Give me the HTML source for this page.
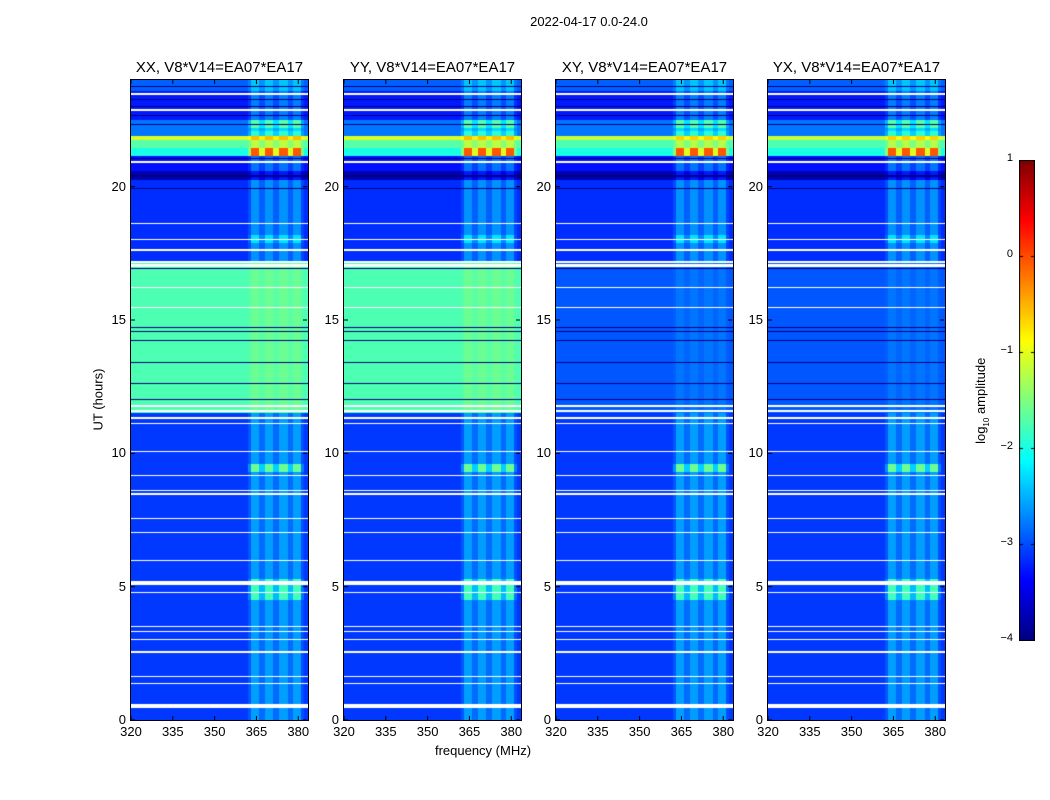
<!DOCTYPE html>
<html><head><meta charset="utf-8">
<style>
body{margin:0;background:#fff;font-family:"Liberation Sans",sans-serif;}
#root{position:relative;width:1050px;height:800px;overflow:hidden;}
.t{position:absolute;color:#000;white-space:nowrap;}
canvas{position:absolute;}
</style></head><body>
<div id="root">
<div class="t" style="left:489px;top:14px;width:200px;text-align:center;font-size:13px;">2022-04-17 0.0-24.0</div>
<div class="t" style="left:400px;top:743px;width:166px;text-align:center;font-size:13px;">frequency (MHz)</div>
<div class="t" style="left:48px;top:392px;width:100px;text-align:center;font-size:13px;transform:rotate(-90deg);">UT (hours)</div>
<div class="t" style="left:922px;top:392px;width:120px;text-align:center;font-size:13px;transform:rotate(-90deg);">log<sub style="font-size:8px">10</sub> amplitude</div>
<canvas id="cb" style="left:1019px;top:160px;" width="16" height="481"></canvas>
</div>
<script>
// ---- data ----
const panelTitles=["XX, V8*V14=EA07*EA17","YY, V8*V14=EA07*EA17","XY, V8*V14=EA07*EA17","YX, V8*V14=EA07*EA17"];
const xTicks=[320,335,350,365,380];
const yTicks=[0,5,10,15,20];
const cbTicks=[-4,-3,-2,-1,0,1];
// time segments (hours) and base log10 level, parallel (XX/YY) and cross (XY/YX)
const segStart=[0,11.2,11.5,17.2,20.25,20.6,21.15,21.45,21.75,21.9,22.5,23.6];
const segEnd  =[11.2,11.5,17.2,20.25,20.6,21.15,21.45,21.75,21.9,22.5,23.6,24];
const levelPar=[-3.1,-3.1,-1.75,-3.15,-3.75,-3.3,-2.0,-1.7,-1.05,-2.8,-3.25,-2.9];
const levelCross=[-3.1,-3.1,-2.95,-3.15,-3.75,-3.3,-2.0,-1.75,-1.15,-2.8,-3.25,-2.9];
// RFI channel bands (MHz) and boost
const bandLo=[362,363,366,368,371,373,376.5,378,381];
const bandHi=[363,366,368,371,373,376.5,378,381,382];
const bandBoost=[0.15,0.5,0.25,0.5,0.25,0.5,0.25,0.5,0.12];
// RFI gain per time window
const gainStart=[4.5,9.3,11.5,17.9,21.15,21.9,22.2];
const gainEnd=[5.3,9.6,17.2,18.2,21.45,22.1,22.5];
const gainVal=[2.6,3.0,0.3,1.8,3.9,1.8,2.2];
// flagged (white) rows, hours
const flagStart=[0.45,1.35,1.6,2.5,3.0,3.3,3.5,4.75,5.05,5.95,7.0,7.55,8.45,8.6,9.15,10.05,11.1,11.3,11.55,11.75,15.45,16.2,17.0,17.15,17.6,18.0,18.6,19.3,20.9,22.85,23.45];
const flagEnd  =[0.6,1.4,1.65,2.58,3.04,3.34,3.54,4.8,5.2,5.99,7.04,7.59,8.5,8.64,9.2,10.09,11.15,11.38,11.62,11.82,15.5,16.25,17.1,17.2,17.65,18.05,18.65,19.3,20.95,22.9,23.5];
// dark (black) rows, hours
const darkStart=[12.0,12.6,13.4,14.2,14.55,14.7,16.9,19.9,20.35,21.05,22.3,22.65,23.0,23.25,23.75];
const darkEnd  =[12.04,12.64,13.44,14.24,14.59,14.74,16.94,19.94,20.45,21.09,22.34,22.69,23.04,23.29,23.79];

// ---- layout ----
const panelX=[131,344,556,768], PW=177, PT=80, PH=640, XMIN=320, XMAX=383.5;
const root=document.getElementById('root');
function jet(v){
  const r=Math.min(1,Math.max(0,1.5-Math.abs(4*v-3)));
  const g=Math.min(1,Math.max(0,1.5-Math.abs(4*v-2)));
  const b=Math.min(1,Math.max(0,1.5-Math.abs(4*v-1)));
  return [r*255|0,g*255|0,b*255|0];
}
function norm(l){return Math.min(1,Math.max(0,(l+4)/5));}
function inAny(h,s,e){for(let i=0;i<s.length;i++) if(h>=s[i]&&h<e[i]) return i; return -1;}
function xs(f){return (f-XMIN)/(XMAX-XMIN)*PW;}
function ys(h){return PH-h/24*PH;}

panelX.forEach((px,p)=>{
  const c=document.createElement('canvas');
  
  
  c.width=PW;c.height=PH;c.style.left=px+'px';c.style.top=PT+'px';
  root.appendChild(c);
  const ctx=c.getContext('2d');const img=ctx.createImageData(PW,PH);
  const lev=p<2?levelPar:levelCross;
  for(let y=0;y<PH;y++){
    const h=24*(1-(y+0.5)/PH);
    const flag=inAny(h,flagStart,flagEnd)>=0;
    const dark=inAny(h,darkStart,darkEnd)>=0;
    const si=inAny(h,segStart,segEnd);
    const base=si>=0?lev[si]:-3;
    const gi=inAny(h,gainStart,gainEnd);
    const gain=gi>=0?gainVal[gi]:1;
    for(let x=0;x<PW;x++){
      const f=XMIN+(x+0.5)/PW*(XMAX-XMIN);
      const bi=inAny(f,bandLo,bandHi);
      let l=base+(bi>=0?bandBoost[bi]*gain:0);
      let col;
      if(flag) col=[255,255,255];
      else if(dark) col=jet(norm(-4.2));
      else col=jet(norm(l));
      const k=(y*PW+x)*4;img.data[k]=col[0];img.data[k+1]=col[1];img.data[k+2]=col[2];img.data[k+3]=255;
    }
  }
  ctx.putImageData(img,0,0);
  const s=document.createElementNS('http://www.w3.org/2000/svg','svg');
  
  
  s.setAttribute('width',PW+2);s.setAttribute('height',PH+2);
  s.style.position='absolute';s.style.left=(px-1)+'px';s.style.top=(PT-1)+'px';
  let g='<rect x="0.5" y="0.5" width="'+(PW+1)+'" height="'+(PH+1)+'" fill="none" stroke="#000"/>';
  xTicks.forEach(t=>{const X=xs(t)+1;g+='<line x1="'+X+'" y1="'+(PH+1)+'" x2="'+X+'" y2="'+(PH-3)+'" stroke="#000"/><line x1="'+X+'" y1="1" x2="'+X+'" y2="5" stroke="#000"/>';});
  yTicks.forEach(t=>{const Y=ys(t)+1;g+='<line x1="1" y1="'+Y+'" x2="5" y2="'+Y+'" stroke="#000"/><line x1="'+PW+'" y1="'+Y+'" x2="'+(PW-4)+'" y2="'+Y+'" stroke="#000"/>';});
  s.innerHTML=g;root.appendChild(s);
  const tt=document.createElement('div');
  
  
  tt.className='t';tt.style.cssText='left:'+(px-20)+'px;top:59px;width:'+(PW+40)+'px;text-align:center;font-size:15px;';
  tt.textContent=panelTitles[p];root.appendChild(tt);
  xTicks.forEach(t=>{const d=document.createElement('div');
    
    
    d.className='t';d.style.cssText='left:'+(px+xs(t)-20)+'px;top:724px;width:40px;text-align:center;font-size:13px;';d.textContent=t;root.appendChild(d);});
  yTicks.forEach(t=>{const d=document.createElement('div');
    
    
    d.className='t';d.style.cssText='left:'+(px-45)+'px;top:'+(PT+ys(t)-8)+'px;width:40px;text-align:right;font-size:13px;';d.textContent=t;root.appendChild(d);});
});
const cb=document.getElementById('cb'),cc=cb.getContext('2d');
for(let y=0;y<481;y++){const c=jet(1-y/480);cc.fillStyle='rgb('+c+')';cc.fillRect(0,y,16,1);}
cc.strokeStyle='#000';cc.strokeRect(0.5,0.5,15,480);
cbTicks.forEach(t=>{const Y=160+(1-(t+4)/5)*480;
  const d=document.createElement('div');
  
  
  d.className='t';d.style.cssText='left:975px;top:'+(Y-8)+'px;width:38px;text-align:right;font-size:11px;';d.textContent=(t<0?'\u2212'+(-t):t);root.appendChild(d);
  const yy=Y-160;cc.beginPath();cc.moveTo(0,yy+0.5);cc.lineTo(4,yy+0.5);cc.moveTo(12,yy+0.5);cc.lineTo(16,yy+0.5);cc.stroke();});
</script>
</body></html>
